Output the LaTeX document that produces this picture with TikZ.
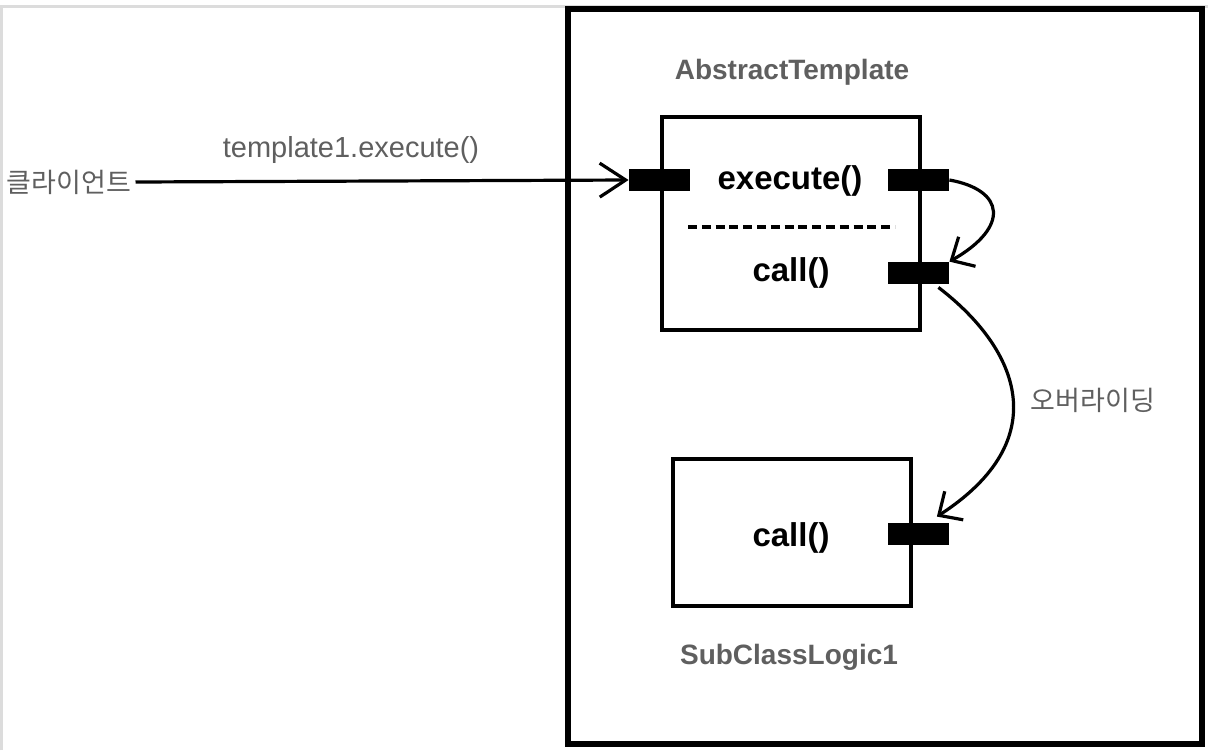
\documentclass[tikz,border=0pt]{standalone}
\usepackage{fontspec}
\setmainfont{Liberation Sans}
\newfontfamily\krfont{Noto Sans CJK KR}
\usetikzlibrary{arrows.meta}
\definecolor{labelgray}{HTML}{5F5F5F}
\definecolor{framegray}{HTML}{DCDCDC}

\begin{document}
\begin{tikzpicture}[x=0.5pt,y=-0.5pt,
  classbox/.style={draw, line width=2.25pt, inner sep=0},
  port/.style={fill=black, minimum width=30.5pt, minimum height=11pt, inner sep=0},
  method/.style={font=\fontsize{16.5}{19}\selectfont\bfseries},
  title/.style={text=labelgray, font=\fontsize{14}{16}\selectfont\bfseries},
  note/.style={text=labelgray, font=\fontsize{14.5}{17}\selectfont},
  krnote/.style={text=labelgray, inner sep=2pt, font=\krfont\fontsize{13.5}{16}\selectfont},
  callarrow/.style={line width=1.6pt, -{Straight Barb[length=9pt,width=17pt]}}]
  \useasboundingbox (0,0) rectangle (1208,750);
  \draw[framegray, line width=1.5pt] (1.5,750) -- (1.5,6) -- (1208,6);

  % classes
  \node[classbox, line width=2.75pt, minimum width=317pt, minimum height=367.5pt] (outer) at (885,376.5) {};
  \node[title] (abstitle) at (792,72) {AbstractTemplate};
  \node[classbox, minimum width=129pt, minimum height=106.5pt] (abs) at (791,223.5) {};
  \node[classbox, minimum width=119pt, minimum height=73.5pt] (sub) at (792,532.5) {};
  \node[title] (subtitle) at (789,657) {SubClassLogic1};
  \draw[line width=2pt, dash pattern=on 4.5pt off 2.4pt] (688,227) -- (895,227);

  % ports and methods
  \foreach \n/\x/\y in {pin/659.5/180, pexe/918.5/180, pcall/918.5/273, psub/918/534}
    \node[port] (\n) at (\x,\y) {};
  \node[method] (execute) at (790,181) {execute()};
  \node[method] (abscall) at (791,273) {call()};
  \node[method] (subcall) at (791,538) {call()};

  % calls
  \node[krnote] (client) at (69,182) {클라이언트};
  \node[note] (calllabel) at (351,150) {template1.execute()};
  \draw[callarrow, -{Straight Barb[length=13pt,width=17pt]}] (client.east) -- (pin.west);
  \draw[callarrow] (pexe.east) .. controls (1005,190) and (1010,227) .. (pcall.north east);
  \draw[callarrow] ([xshift=-5.5pt,yshift=-1.5pt]pcall.south east) .. controls (1020,350) and (1055,440) .. ([xshift=-6pt,yshift=3pt]psub.north east);
  \node[krnote] (override) at (1093,400) {오버라이딩};
\end{tikzpicture}
\end{document}
